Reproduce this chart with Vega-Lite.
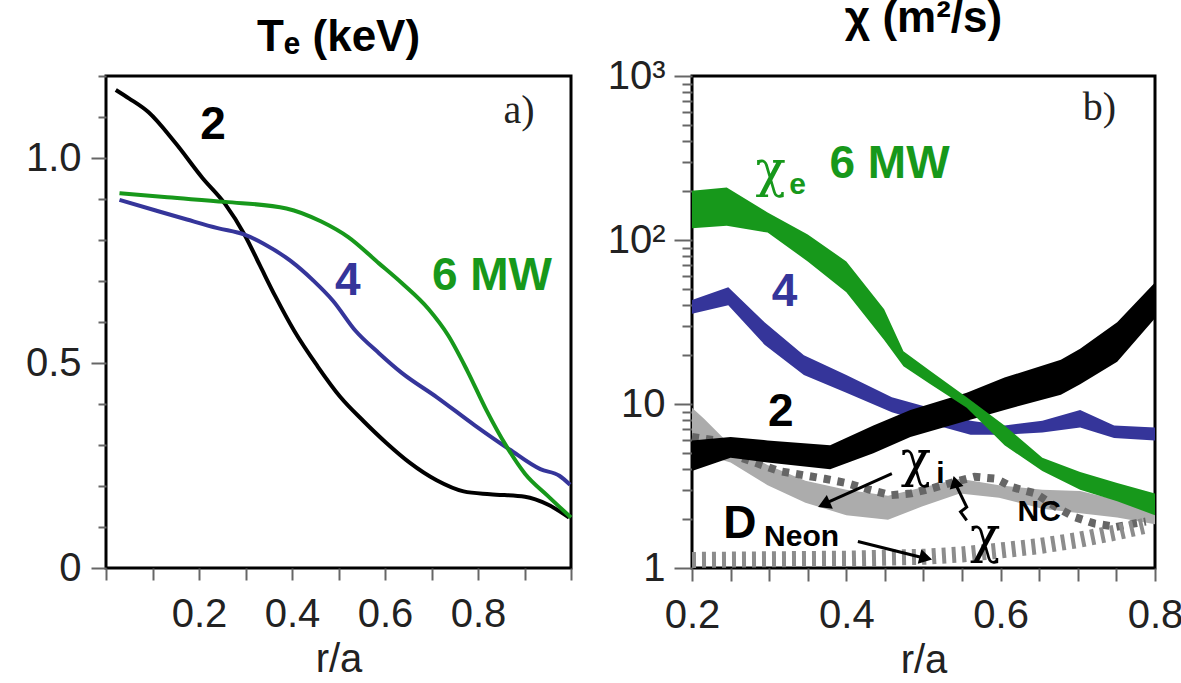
{
  "$schema": "https://vega.github.io/schema/vega-lite/v6.json",
  "padding": {"left": 23, "top": -5, "right": 0, "bottom": 0},
  "spacing": 24,
  "config": {
    "view": {"stroke": "black", "strokeWidth": 3},
    "axis": {"labelFont": "Liberation Sans", "labelFontSize": 40, "labelColor": "#222", "ticks": true, "tickColor": "#666666", "tickWidth": 2, "domain": false, "grid": false, "labelFlush": false, "titleFont": "Liberation Sans", "titleFontSize": 40, "titleFontWeight": "normal", "titleColor": "#222"},
    "title": {"font": "Liberation Sans", "fontSize": 44, "fontWeight": "bold", "color": "black", "offset": 10, "dy": -5},
    "text": {"font": "Liberation Sans"}
  },
  "datasets": {
    "te": [
      {"s": "2", "x": 0.021, "y": 1.166}, {"s": "2", "x": 0.05, "y": 1.145}, {"s": "2", "x": 0.091, "y": 1.112}, {"s": "2", "x": 0.149, "y": 1.037}, {"s": "2", "x": 0.207, "y": 0.952}, {"s": "2", "x": 0.256, "y": 0.888}, {"s": "2", "x": 0.298, "y": 0.813}, {"s": "2", "x": 0.331, "y": 0.738}, {"s": "2", "x": 0.364, "y": 0.663}, {"s": "2", "x": 0.405, "y": 0.578}, {"s": "2", "x": 0.455, "y": 0.492}, {"s": "2", "x": 0.504, "y": 0.417}, {"s": "2", "x": 0.554, "y": 0.358}, {"s": "2", "x": 0.603, "y": 0.305}, {"s": "2", "x": 0.653, "y": 0.257}, {"s": "2", "x": 0.711, "y": 0.214}, {"s": "2", "x": 0.769, "y": 0.187}, {"s": "2", "x": 0.826, "y": 0.180}, {"s": "2", "x": 0.901, "y": 0.174}, {"s": "2", "x": 0.950, "y": 0.155}, {"s": "2", "x": 0.996, "y": 0.123},
      {"s": "4", "x": 0.029, "y": 0.898}, {"s": "4", "x": 0.107, "y": 0.872}, {"s": "4", "x": 0.174, "y": 0.850}, {"s": "4", "x": 0.240, "y": 0.829}, {"s": "4", "x": 0.298, "y": 0.813}, {"s": "4", "x": 0.339, "y": 0.791}, {"s": "4", "x": 0.397, "y": 0.749}, {"s": "4", "x": 0.446, "y": 0.701}, {"s": "4", "x": 0.488, "y": 0.652}, {"s": "4", "x": 0.537, "y": 0.578}, {"s": "4", "x": 0.587, "y": 0.524}, {"s": "4", "x": 0.636, "y": 0.476}, {"s": "4", "x": 0.711, "y": 0.417}, {"s": "4", "x": 0.793, "y": 0.348}, {"s": "4", "x": 0.868, "y": 0.289}, {"s": "4", "x": 0.934, "y": 0.241}, {"s": "4", "x": 0.975, "y": 0.225}, {"s": "4", "x": 0.998, "y": 0.203},
      {"s": "6", "x": 0.029, "y": 0.914}, {"s": "6", "x": 0.132, "y": 0.904}, {"s": "6", "x": 0.256, "y": 0.893}, {"s": "6", "x": 0.388, "y": 0.877}, {"s": "6", "x": 0.463, "y": 0.845}, {"s": "6", "x": 0.521, "y": 0.807}, {"s": "6", "x": 0.587, "y": 0.743}, {"s": "6", "x": 0.636, "y": 0.695}, {"s": "6", "x": 0.694, "y": 0.631}, {"s": "6", "x": 0.736, "y": 0.567}, {"s": "6", "x": 0.777, "y": 0.481}, {"s": "6", "x": 0.818, "y": 0.385}, {"s": "6", "x": 0.860, "y": 0.299}, {"s": "6", "x": 0.901, "y": 0.230}, {"s": "6", "x": 0.950, "y": 0.176}, {"s": "6", "x": 1.0, "y": 0.123}
    ],
    "chi": [
      {"s": "6", "x": 0.2, "lo": 118, "hi": 200}, {"s": "6", "x": 0.245, "lo": 122, "hi": 209}, {"s": "6", "x": 0.298, "lo": 111, "hi": 147}, {"s": "6", "x": 0.35, "lo": 74, "hi": 108}, {"s": "6", "x": 0.40, "lo": 48, "hi": 74}, {"s": "6", "x": 0.449, "lo": 24.6, "hi": 37.8}, {"s": "6", "x": 0.474, "lo": 17, "hi": 21}, {"s": "6", "x": 0.508, "lo": 13.3, "hi": 16}, {"s": "6", "x": 0.556, "lo": 9.5, "hi": 11}, {"s": "6", "x": 0.605, "lo": 5.6, "hi": 7.4}, {"s": "6", "x": 0.654, "lo": 3.9, "hi": 4.7}, {"s": "6", "x": 0.703, "lo": 3.0, "hi": 3.85}, {"s": "6", "x": 0.751, "lo": 2.55, "hi": 3.3}, {"s": "6", "x": 0.8, "lo": 2.1, "hi": 2.85},
      {"s": "4", "x": 0.2, "lo": 35.5, "hi": 43}, {"s": "4", "x": 0.247, "lo": 40, "hi": 51.5}, {"s": "4", "x": 0.294, "lo": 23, "hi": 31.5}, {"s": "4", "x": 0.345, "lo": 15, "hi": 19.8}, {"s": "4", "x": 0.40, "lo": 11.7, "hi": 15}, {"s": "4", "x": 0.459, "lo": 8.9, "hi": 11}, {"s": "4", "x": 0.508, "lo": 7.6, "hi": 9.5}, {"s": "4", "x": 0.561, "lo": 6.5, "hi": 7.9}, {"s": "4", "x": 0.605, "lo": 6.5, "hi": 7.4}, {"s": "4", "x": 0.654, "lo": 6.7, "hi": 7.9}, {"s": "4", "x": 0.703, "lo": 7.2, "hi": 9.2}, {"s": "4", "x": 0.747, "lo": 6.2, "hi": 7.4}, {"s": "4", "x": 0.8, "lo": 6.0, "hi": 7.2},
      {"s": "2", "x": 0.2, "lo": 3.9, "hi": 6.0}, {"s": "2", "x": 0.25, "lo": 4.7, "hi": 6.3}, {"s": "2", "x": 0.298, "lo": 4.4, "hi": 6.0}, {"s": "2", "x": 0.379, "lo": 4.0, "hi": 5.6}, {"s": "2", "x": 0.435, "lo": 5.0, "hi": 7.4}, {"s": "2", "x": 0.483, "lo": 6.3, "hi": 9.2}, {"s": "2", "x": 0.556, "lo": 7.9, "hi": 11.7}, {"s": "2", "x": 0.605, "lo": 9.2, "hi": 14.5}, {"s": "2", "x": 0.678, "lo": 11.4, "hi": 18.6}, {"s": "2", "x": 0.703, "lo": 13.2, "hi": 21.7}, {"s": "2", "x": 0.751, "lo": 18.1, "hi": 31.5}, {"s": "2", "x": 0.8, "lo": 33.3, "hi": 55},
      {"s": "i", "x": 0.2, "lo": 5.0, "hi": 9.5}, {"s": "i", "x": 0.216, "lo": 4.9, "hi": 8.1}, {"s": "i", "x": 0.25, "lo": 4.4, "hi": 5.6}, {"s": "i", "x": 0.298, "lo": 3.2, "hi": 4.25}, {"s": "i", "x": 0.347, "lo": 2.5, "hi": 3.4}, {"s": "i", "x": 0.40, "lo": 2.1, "hi": 3.0}, {"s": "i", "x": 0.454, "lo": 1.97, "hi": 2.76}, {"s": "i", "x": 0.498, "lo": 2.37, "hi": 3.1}, {"s": "i", "x": 0.547, "lo": 2.85, "hi": 3.5}, {"s": "i", "x": 0.598, "lo": 2.68, "hi": 3.2}, {"s": "i", "x": 0.654, "lo": 2.3, "hi": 3.0}, {"s": "i", "x": 0.703, "lo": 2.16, "hi": 2.95}, {"s": "i", "x": 0.751, "lo": 2.03, "hi": 2.6}, {"s": "i", "x": 0.8, "lo": 1.85, "hi": 2.37}
    ],
    "nc": [
      {"x": 0.2, "y": 6.3}, {"x": 0.23, "y": 6.0}, {"x": 0.264, "y": 4.7}, {"x": 0.313, "y": 3.9}, {"x": 0.372, "y": 3.5}, {"x": 0.40, "y": 3.3}, {"x": 0.43, "y": 3.0}, {"x": 0.458, "y": 2.78}, {"x": 0.484, "y": 2.85}, {"x": 0.51, "y": 3.05}, {"x": 0.54, "y": 3.35}, {"x": 0.566, "y": 3.6}, {"x": 0.594, "y": 3.5}, {"x": 0.616, "y": 3.1}, {"x": 0.645, "y": 2.85}, {"x": 0.671, "y": 2.37}, {"x": 0.695, "y": 2.05}, {"x": 0.721, "y": 1.87}, {"x": 0.75, "y": 1.78}, {"x": 0.774, "y": 1.87}, {"x": 0.788, "y": 1.92}
    ],
    "neon": [
      {"x": 0.2, "y": 1.12}, {"x": 0.3, "y": 1.13}, {"x": 0.4, "y": 1.14}, {"x": 0.5, "y": 1.17}, {"x": 0.55, "y": 1.21}, {"x": 0.6, "y": 1.28}, {"x": 0.65, "y": 1.36}, {"x": 0.7, "y": 1.48}, {"x": 0.75, "y": 1.65}, {"x": 0.785, "y": 1.8}
    ],
    "arrows": [
      {"a": "i", "x": 0.459, "y": 3.76, "x2": 0.375, "y2": 2.5},
      {"a": "neon", "x": 0.415, "y": 1.45, "x2": 0.498, "y2": 1.16}
    ],
    "zig": [
      {"o": 1, "x": 0.556, "y": 1.95}, {"o": 2, "x": 0.548, "y": 2.2}, {"o": 3, "x": 0.556, "y": 2.35}, {"o": 4, "x": 0.543, "y": 3.15}
    ]
  },
  "hconcat": [
    {
      "width": 465, "height": 492,
      "title": "Tₑ (keV)",
      "layer": [
        {
          "data": {"name": "te"},
          "mark": {"type": "line", "strokeWidth": 4, "interpolate": "monotone"},
          "encoding": {
            "x": {"field": "x", "type": "quantitative", "scale": {"domain": [0, 1], "nice": false},
              "axis": {"title": "r/a", "values": [0, 0.1, 0.2, 0.3, 0.4, 0.5, 0.6, 0.7, 0.8, 0.9, 1.0],
                "labelExpr": "(datum.value > 0.05 && datum.value < 0.95 && round(datum.value*10) % 2 == 0) ? format(datum.value, '.1f') : ''",
                "tickSize": 12,
                "labelPadding": 14, "titlePadding": 5}},
            "y": {"field": "y", "type": "quantitative", "scale": {"domain": [0, 1.2], "nice": false},
              "axis": {"title": null, "values": [0, 0.1, 0.2, 0.3, 0.4, 0.5, 0.6, 0.7, 0.8, 0.9, 1.0, 1.1, 1.2],
                "labelExpr": "datum.value == 0 ? '0' : (abs(datum.value - 0.5) < 0.001 ? '0.5' : (abs(datum.value - 1) < 0.001 ? '1.0' : ''))",
                "tickSize": {"condition": {"test": "datum.value == 0 || abs(datum.value - 0.5) < 0.001 || abs(datum.value - 1) < 0.001", "value": 15}, "value": 8},
                "labelPadding": 10}},
            "color": {"field": "s", "type": "nominal", "scale": {"domain": ["2", "4", "6"], "range": ["#000000", "#35359a", "#17981b"]}, "legend": null}
          }
        },
        {
          "data": {"values": [{"t": "2", "x": 0.23, "y": 1.08}]},
          "mark": {"type": "text", "fontSize": 46, "fontWeight": "bold", "color": "#000000", "baseline": "middle"},
          "encoding": {"x": {"field": "x", "type": "quantitative"}, "y": {"field": "y", "type": "quantitative"}, "text": {"field": "t"}}
        },
        {
          "data": {"values": [{"t": "4", "x": 0.52, "y": 0.70}]},
          "mark": {"type": "text", "fontSize": 46, "fontWeight": "bold", "color": "#35359a", "baseline": "middle"},
          "encoding": {"x": {"field": "x", "type": "quantitative"}, "y": {"field": "y", "type": "quantitative"}, "text": {"field": "t"}}
        },
        {
          "data": {"values": [{"t": "6 MW", "x": 0.83, "y": 0.711}]},
          "mark": {"type": "text", "fontSize": 46, "fontWeight": "bold", "color": "#17981b", "baseline": "middle"},
          "encoding": {"x": {"field": "x", "type": "quantitative"}, "y": {"field": "y", "type": "quantitative"}, "text": {"field": "t"}}
        },
        {
          "data": {"values": [{"t": "a)", "x": 0.888, "y": 1.115}]},
          "mark": {"type": "text", "fontSize": 40, "font": "Liberation Serif", "color": "#222", "baseline": "middle"},
          "encoding": {"x": {"field": "x", "type": "quantitative"}, "y": {"field": "y", "type": "quantitative"}, "text": {"field": "t"}}
        }
      ]
    },
    {
      "width": 463, "height": 492,
      "title": "χ (m²/s)",
      "encoding": {
        "x": {"field": "x", "type": "quantitative", "scale": {"domain": [0.2, 0.8], "nice": false},
          "axis": {"title": "r/a", "values": [0.2, 0.25, 0.3, 0.35, 0.4, 0.45, 0.5, 0.55, 0.6, 0.65, 0.7, 0.75, 0.8],
            "labelExpr": "(abs(datum.value-0.2)<0.001 || abs(datum.value-0.4)<0.001 || abs(datum.value-0.6)<0.001 || abs(datum.value-0.8)<0.001) ? format(datum.value, '.1f') : ''",
            "tickSize": 13, "labelPadding": 14, "titlePadding": 5}}
      },
      "layer": [
        {
          "data": {"name": "chi"},
          "transform": [{"filter": "datum.s == 'i'"}],
          "mark": {"type": "area", "color": "#acacac"},
          "encoding": {
            "y": {"field": "lo", "type": "quantitative", "stack": null, "scale": {"type": "log", "domain": [1, 1000], "nice": false},
              "axis": {"title": null, "values": [1, 2, 3, 4, 5, 6, 7, 8, 9, 10, 20, 30, 40, 50, 60, 70, 80, 90, 100, 200, 300, 400, 500, 600, 700, 800, 900, 1000],
                "labelExpr": "datum.value == 1 ? '1' : (datum.value == 10 ? '10' : (datum.value == 100 ? '10²' : (datum.value == 1000 ? '10³' : '')))",
                "tickSize": {"condition": {"test": "datum.value == 1 || datum.value == 10 || datum.value == 100 || datum.value == 1000", "value": 18}, "value": 10},
                "labelPadding": 9}},
            "y2": {"field": "hi"}
          }
        },
        {
          "data": {"name": "nc"},
          "mark": {"type": "line", "color": "#666666", "strokeWidth": 8, "strokeDash": [7, 7], "strokeCap": "butt"},
          "encoding": {"y": {"field": "y", "type": "quantitative"}}
        },
        {
          "data": {"name": "neon"},
          "mark": {"type": "line", "color": "#8c8c8c", "strokeWidth": 16, "strokeDash": [4, 6], "strokeCap": "butt"},
          "encoding": {"y": {"field": "y", "type": "quantitative"}}
        },
        {
          "data": {"name": "chi"},
          "transform": [{"filter": "datum.s == '4'"}],
          "mark": {"type": "area", "color": "#35359a"},
          "encoding": {"y": {"field": "lo", "type": "quantitative", "stack": null}, "y2": {"field": "hi"}}
        },
        {
          "data": {"name": "chi"},
          "transform": [{"filter": "datum.s == '2'"}],
          "mark": {"type": "area", "color": "#000000"},
          "encoding": {"y": {"field": "lo", "type": "quantitative", "stack": null}, "y2": {"field": "hi"}}
        },
        {
          "data": {"name": "chi"},
          "transform": [{"filter": "datum.s == '6'"}],
          "mark": {"type": "area", "color": "#17981b"},
          "encoding": {"y": {"field": "lo", "type": "quantitative", "stack": null}, "y2": {"field": "hi"}}
        },
        {
          "data": {"name": "arrows"},
          "mark": {"type": "rule", "color": "black", "strokeWidth": 3},
          "encoding": {"y": {"field": "y", "type": "quantitative"}, "x2": {"field": "x2"}, "y2": {"field": "y2"}}
        },
        {
          "data": {"name": "zig"},
          "mark": {"type": "line", "color": "black", "strokeWidth": 3},
          "encoding": {"y": {"field": "y", "type": "quantitative"}, "order": {"field": "o"}}
        },
        {
          "data": {"values": [{"x": 0.371, "y": 2.44}]},
          "mark": {"type": "point", "shape": "triangle-up", "filled": true, "color": "black", "opacity": 1, "size": 220, "angle": 246},
          "encoding": {"y": {"field": "y", "type": "quantitative"}}
        },
        {
          "data": {"values": [{"x": 0.503, "y": 1.15}]},
          "mark": {"type": "point", "shape": "triangle-up", "filled": true, "color": "black", "opacity": 1, "size": 220, "angle": 104},
          "encoding": {"y": {"field": "y", "type": "quantitative"}}
        },
        {
          "data": {"values": [{"x": 0.541, "y": 3.35}]},
          "mark": {"type": "point", "shape": "triangle-up", "filled": true, "color": "black", "opacity": 1, "size": 200, "angle": 346},
          "encoding": {"y": {"field": "y", "type": "quantitative"}}
        },
        {
          "data": {"values": [{"t": "χ", "x": 0.302, "y": 265}]},
          "mark": {"type": "text", "fontSize": 50, "font": "DejaVu Serif", "color": "#17981b", "baseline": "middle"},
          "encoding": {"y": {"field": "y", "type": "quantitative"}, "text": {"field": "t"}}
        },
        {
          "data": {"values": [{"t": "e", "x": 0.337, "y": 215}]},
          "mark": {"type": "text", "fontSize": 30, "fontWeight": "bold", "color": "#17981b", "baseline": "middle"},
          "encoding": {"y": {"field": "y", "type": "quantitative"}, "text": {"field": "t"}}
        },
        {
          "data": {"values": [{"t": "6 MW", "x": 0.456, "y": 292}]},
          "mark": {"type": "text", "fontSize": 46, "fontWeight": "bold", "color": "#17981b", "baseline": "middle"},
          "encoding": {"y": {"field": "y", "type": "quantitative"}, "text": {"field": "t"}}
        },
        {
          "data": {"values": [{"t": "4", "x": 0.32, "y": 48}]},
          "mark": {"type": "text", "fontSize": 46, "fontWeight": "bold", "color": "#35359a", "baseline": "middle"},
          "encoding": {"y": {"field": "y", "type": "quantitative"}, "text": {"field": "t"}}
        },
        {
          "data": {"values": [{"t": "2", "x": 0.315, "y": 8.9}]},
          "mark": {"type": "text", "fontSize": 46, "fontWeight": "bold", "color": "#000000", "baseline": "middle"},
          "encoding": {"y": {"field": "y", "type": "quantitative"}, "text": {"field": "t"}}
        },
        {
          "data": {"values": [{"t": "b)", "x": 0.728, "y": 640}]},
          "mark": {"type": "text", "fontSize": 40, "font": "Liberation Serif", "color": "#222", "baseline": "middle"},
          "encoding": {"y": {"field": "y", "type": "quantitative"}, "text": {"field": "t"}}
        },
        {
          "data": {"values": [{"t": "χ", "x": 0.49, "y": 4.5}, {"t": "χ", "x": 0.58, "y": 1.55}]},
          "mark": {"type": "text", "fontSize": 50, "font": "DejaVu Serif", "color": "#000000", "baseline": "middle"},
          "encoding": {"y": {"field": "y", "type": "quantitative"}, "text": {"field": "t"}}
        },
        {
          "data": {"values": [{"t": "i", "x": 0.522, "y": 3.76}, {"t": "NC", "x": 0.65, "y": 2.2}]},
          "mark": {"type": "text", "fontSize": 30, "fontWeight": "bold", "color": "#000000", "baseline": "middle"},
          "encoding": {"y": {"field": "y", "type": "quantitative"}, "text": {"field": "t"}}
        },
        {
          "data": {"values": [{"t": "D", "x": 0.262, "y": 1.85}]},
          "mark": {"type": "text", "fontSize": 46, "fontWeight": "bold", "color": "#000000", "baseline": "middle"},
          "encoding": {"y": {"field": "y", "type": "quantitative"}, "text": {"field": "t"}}
        },
        {
          "data": {"values": [{"t": "Neon", "x": 0.342, "y": 1.54}]},
          "mark": {"type": "text", "fontSize": 30, "fontWeight": "bold", "color": "#000000", "baseline": "middle"},
          "encoding": {"y": {"field": "y", "type": "quantitative"}, "text": {"field": "t"}}
        }
      ]
    }
  ]
}
